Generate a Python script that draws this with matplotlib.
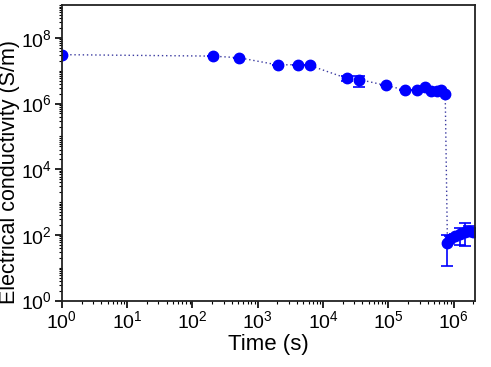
import numpy as np
import matplotlib
matplotlib.use("Agg")
import matplotlib.pyplot as plt
from matplotlib.ticker import LogLocator, NullFormatter

plt.rcParams["font.family"] = ["Liberation Sans", "DejaVu Sans"]
plt.rcParams["mathtext.fontset"] = "custom"
plt.rcParams["mathtext.rm"] = "Liberation Sans"
plt.rcParams["mathtext.it"] = "Liberation Sans:italic"
plt.rcParams["mathtext.bf"] = "Liberation Sans:bold"

## data
time_s = [1, 203, 515, 2050, 4150, 6300, 23000, 36000, 91000, 1.8e5, 2.7e5,
          3.6e5, 4.5e5, 5.5e5, 6.3e5, 7.4e5,
          8.0e5, 8.9e5, 1.05e6, 1.24e6, 1.48e6, 1.73e6, 1.95e6]
sigma = [3.1e7, 2.8e7, 2.5e7, 1.5e7, 1.55e7, 1.45e7, 5.9e6, 5.4e6, 3.6e6, 2.6e6, 2.6e6,
         3.1e6, 2.35e6, 2.35e6, 2.6e6, 2.0e6,
         55, 75, 90, 105, 120, 130, 125]
err_low = [0, 0, 0, 0, 0, 0, 1.0e6, 2.2e6, 0, 0, 0,
           0, 0, 0, 0, 0,
           44, 10, 15, 55, 75, 30, 25]
err_high = [0, 0, 0, 0, 0, 0, 1.0e6, 1.6e6, 0, 0, 0,
            0, 0, 0, 0, 0,
            45, 15, 20, 60, 110, 60, 40]

fig = plt.figure(figsize=(4.91, 3.67), dpi=100)
ax = fig.add_axes([0.126, 0.181, 0.841, 0.805])

ax.plot(time_s, sigma, linestyle=(0, (1, 2)), color="#3a3aa0", linewidth=1.0, zorder=1)
ax.errorbar(time_s, sigma, yerr=[err_low, err_high], fmt="o", color="#0000ff",
            markersize=7.5, elinewidth=1.2, capsize=4, capthick=1.2, zorder=2)

ax.set_xscale("log")
ax.set_yscale("log")
ax.set_xlim(1, 2.1e6)
ax.set_ylim(1, 1e9)

ax.set_xticks([10.0 ** k for k in range(0, 7)])
ax.set_yticks([10.0 ** k for k in range(0, 9, 2)])
ax.xaxis.set_minor_locator(LogLocator(base=10, subs=np.arange(2, 10), numticks=20))
ax.yaxis.set_minor_locator(LogLocator(base=10, subs=np.arange(1, 10), numticks=20))
ax.xaxis.set_minor_formatter(NullFormatter())
ax.yaxis.set_minor_formatter(NullFormatter())

ax.tick_params(which="major", direction="out", length=5, width=1.2, labelsize=14, pad=2)
ax.tick_params(which="minor", direction="out", length=2.5, width=0.8)
for spine in ax.spines.values():
    spine.set_linewidth(1.3)
    spine.set_color("#222222")

ax.set_xlabel("Time (s)", fontsize=16, labelpad=1)
ax.set_ylabel("Electrical conductivity (S/m)", fontsize=15.5)
ax.yaxis.set_label_coords(-0.102, 0.435)

fig.savefig("out.png", dpi=100)
